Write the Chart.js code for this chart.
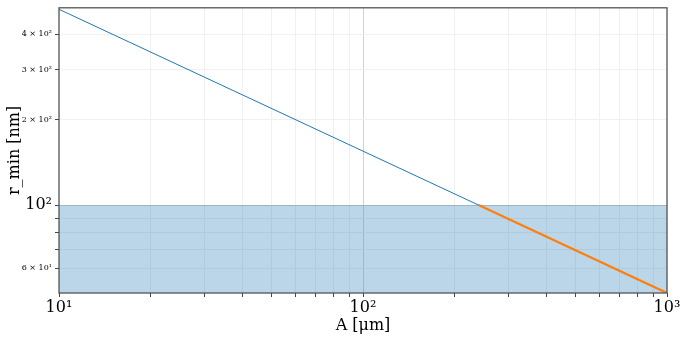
<!DOCTYPE html>
<html>
<head>
<meta charset="utf-8">
<script src="https://cdn.jsdelivr.net/npm/chart.js@4/dist/chart.umd.min.js"></script>
<style>
    html, body { margin: 0; padding: 0; background: #fff; }
    #wrap { width: 687px; height: 339px; }
</style>
</head>
<body>
<div id="wrap"><canvas id="chart"></canvas></div>
<script>
// values
const areaA = [10, 1000];            // A [um], full x range
const rMin = [490, 49];              // r_min [nm] at the ends (straight on log-log)
const belowA = [240, 1000];          // part of the curve under 100 nm
const belowR = [100, 49];
const limitR = 100;                  // shaded band upper edge

const xTicks = [10, 20, 30, 40, 50, 60, 70, 80, 90, 100, 200, 300, 400, 500, 600, 700, 800, 900, 1000];
const yTicks = [60, 70, 80, 90, 100, 200, 300, 400];
const xMajor = { 10: '10¹', 100: '10²', 1000: '10³' };
const yLabels = { 60: '6 × 10¹', 100: '10²', 200: '2 × 10²', 300: '3 × 10²', 400: '4 × 10²' };

const serif = "'DejaVu Serif', serif";

const frame = {
    id: 'frame',
    afterDraw(chart) {
        const a = chart.chartArea;
        const ctx = chart.ctx;
        ctx.save();
        ctx.strokeStyle = '#555';
        ctx.lineWidth = 1.3;
        ctx.strokeRect(a.left, a.top, a.right - a.left, a.bottom - a.top);
        ctx.restore();
    }
};

const toPts = (xs, ys) => xs.map((x, i) => ({ x: x, y: ys[i] }));

new Chart(document.getElementById('chart'), {
    type: 'line',
    data: {
        datasets: [
            {
                label: 'limit',
                data: toPts(areaA, [limitR, limitR]),
                borderWidth: 0,
                pointRadius: 0,
                backgroundColor: 'rgba(31, 119, 180, 0.3)',
                fill: 'start',
                order: 3
            },
            {
                label: 'r_min',
                data: toPts(areaA, rMin),
                borderColor: '#1f77b4',
                borderWidth: 1,
                pointRadius: 0,
                fill: false,
                order: 2
            },
            {
                label: 'r_min < 100',
                data: toPts(belowA, belowR),
                borderColor: '#ff7f0e',
                borderWidth: 2.2,
                pointRadius: 0,
                fill: false,
                order: 1
            }
        ]
    },
    options: {
        responsive: true,
        maintainAspectRatio: false,
        animation: false,
        layout: { padding: { top: 6, right: 20, left: 5, bottom: 4 } },
        plugins: {
            legend: { display: false },
            tooltip: { enabled: false }
        },
        scales: {
            x: {
                type: 'logarithmic',
                min: 10,
                max: 1000,
                afterBuildTicks: (s) => { s.ticks = xTicks.map(v => ({ value: v })); },
                afterFit: (s) => { s.height = 42; },
                border: { display: false },
                grid: {
                    color: (c) => c.tick && c.tick.value === 100 ? '#d2d2d2' : '#f0f0f0',
                    tickColor: '#444',
                    tickLength: 4,
                    lineWidth: 1
                },
                ticks: {
                    autoSkip: false,
                    maxRotation: 0,
                    padding: 1,
                    color: '#000',
                    font: { family: serif, size: 16 },
                    callback: (v) => xMajor[v] || ''
                },
                title: {
                    display: true,
                    text: 'A [μm]',
                    color: '#000',
                    font: { family: serif, size: 16 },
                    padding: { top: 0, bottom: 0 }
                }
            },
            y: {
                type: 'logarithmic',
                min: 49,
                max: 496,
                afterBuildTicks: (s) => { s.ticks = yTicks.map(v => ({ value: v })); },
                afterFit: (s) => { s.width = 54; },
                border: { display: false },
                grid: {
                    color: (c) => c.tick && c.tick.value === 100 ? '#d2d2d2' : '#f0f0f0',
                    tickColor: '#444',
                    tickLength: 4,
                    lineWidth: 1
                },
                ticks: {
                    autoSkip: false,
                    padding: 3,
                    color: '#000',
                    font: (c) => ({ family: serif, size: c.tick && c.tick.value === 100 ? 16 : 8 }),
                    callback: (v) => yLabels[v] || ''
                },
                title: {
                    display: true,
                    text: 'r_min [nm]',
                    color: '#000',
                    font: { family: serif, size: 16 },
                    padding: { top: 0, bottom: 2 }
                }
            }
        }
    },
    plugins: [frame]
});
</script>
</body>
</html>
